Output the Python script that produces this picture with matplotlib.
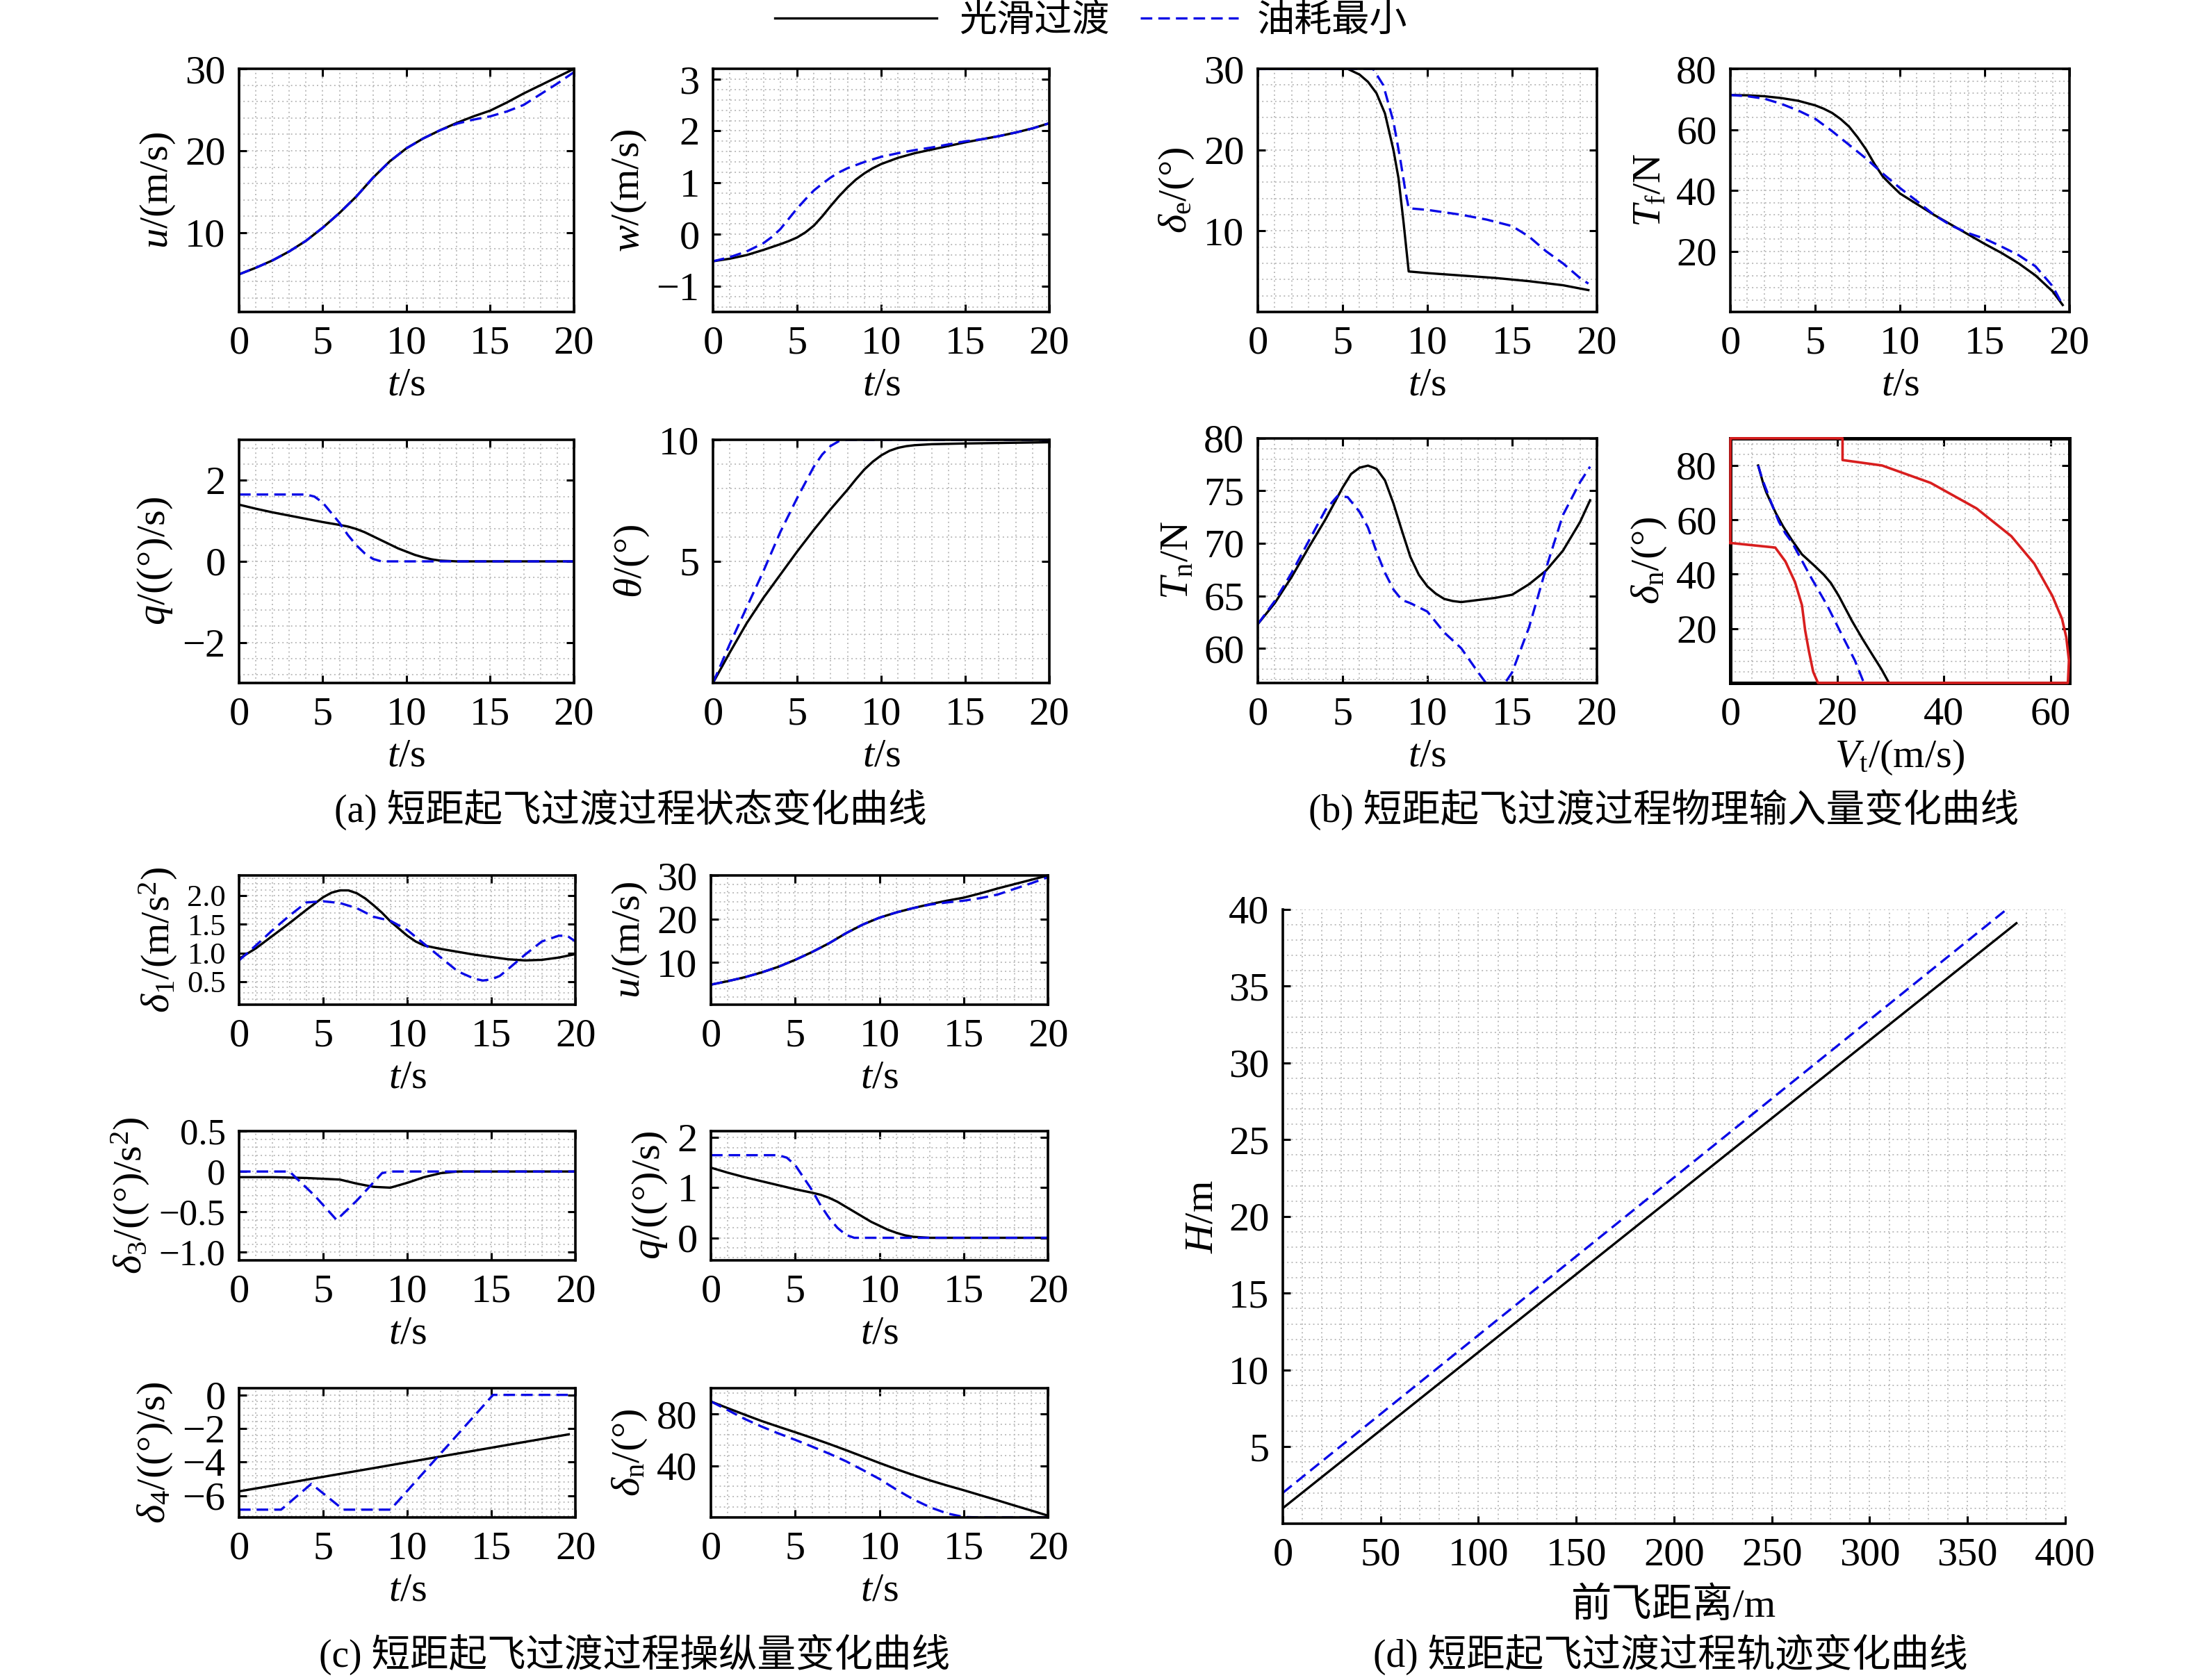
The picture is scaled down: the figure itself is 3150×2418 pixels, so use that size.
import matplotlib
matplotlib.use("Agg")
import matplotlib.pyplot as plt
from matplotlib.lines import Line2D
from matplotlib.ticker import AutoMinorLocator

plt.rcParams['font.family'] = ['Liberation Serif', 'Noto Sans CJK SC']
plt.rcParams['mathtext.fontset'] = 'custom'
plt.rcParams['mathtext.rm'] = 'Liberation Serif'
plt.rcParams['mathtext.it'] = 'Liberation Serif:italic'
plt.rcParams['mathtext.bf'] = 'Liberation Serif:bold'
plt.rcParams['axes.unicode_minus'] = True

# ---- data ----
# "s" = 光滑过渡 (smooth), "o" = 油耗最小 (min fuel)
t_u_s = [0, 1, 2, 3, 4, 5, 6, 7, 8, 9, 10, 11, 12, 13, 14, 15, 16, 17, 18, 19, 20]
u_s = [4.9, 5.7, 6.6, 7.7, 9.0, 10.6, 12.4, 14.4, 16.7, 18.7, 20.3, 21.5, 22.5, 23.4, 24.2, 24.9, 25.9, 27.0, 28.0, 29.0, 30.0]
t_u_o = [0, 1, 2, 3, 4, 5, 6, 7, 8, 9, 10, 11, 12, 13, 14, 15, 16, 17, 18, 19, 20]
u_o = [4.9, 5.7, 6.6, 7.7, 9.0, 10.6, 12.4, 14.4, 16.7, 18.7, 20.3, 21.5, 22.5, 23.3, 23.8, 24.2, 24.8, 25.6, 26.9, 28.2, 29.6]

t_w_s = [0, 1, 2, 3, 4, 4.5, 5, 5.5, 6, 6.5, 7, 7.5, 8, 8.5, 9, 9.5, 10, 11, 12, 13, 14, 15, 16, 17, 18, 19, 20]
w_s = [-0.52, -0.47, -0.40, -0.30, -0.19, -0.13, -0.06, 0.04, 0.17, 0.35, 0.55, 0.74, 0.91, 1.06, 1.18, 1.28, 1.36, 1.48, 1.57, 1.64, 1.71, 1.78, 1.84, 1.90, 1.97, 2.05, 2.15]
t_w_o = [0, 1, 2, 3, 3.5, 4, 4.5, 5, 5.5, 6, 6.5, 7, 7.5, 8, 9, 10, 11, 12, 13, 14, 15, 16, 17, 18, 19, 20]
w_o = [-0.52, -0.44, -0.33, -0.17, -0.05, 0.10, 0.30, 0.50, 0.68, 0.85, 0.98, 1.10, 1.20, 1.28, 1.40, 1.50, 1.57, 1.63, 1.68, 1.74, 1.80, 1.84, 1.90, 1.97, 2.05, 2.15]

t_q_s = [0, 1, 2, 3, 4, 5, 6, 6.5, 7, 7.5, 8, 8.5, 9, 9.5, 10, 10.5, 11, 11.5, 12, 13, 20]
q_s = [1.40, 1.30, 1.21, 1.13, 1.05, 0.97, 0.90, 0.86, 0.80, 0.72, 0.62, 0.52, 0.42, 0.32, 0.24, 0.16, 0.10, 0.05, 0.02, 0.0, 0.0]
t_q_o = [0, 4, 4.5, 5, 5.5, 6, 6.5, 7, 7.5, 8, 8.5, 20]
q_o = [1.65, 1.65, 1.60, 1.45, 1.20, 0.95, 0.65, 0.40, 0.20, 0.06, 0.0, 0.0]

t_th_s = [0, 1, 2, 3, 4, 5, 6, 7, 8, 8.5, 9, 9.5, 10, 10.5, 11, 11.5, 12, 13, 15, 20]
th_s = [0, 1.25, 2.45, 3.5, 4.45, 5.4, 6.3, 7.15, 7.95, 8.38, 8.78, 9.1, 9.36, 9.55, 9.67, 9.74, 9.78, 9.82, 9.85, 9.9]
t_th_o = [0, 1, 2, 3, 4, 5, 6, 6.5, 7, 7.5, 8, 20]
th_o = [0, 1.6, 3.1, 4.6, 6.2, 7.6, 8.9, 9.4, 9.75, 9.95, 10.0, 10.0]

t_de_s = [0, 5.3, 6, 6.5, 7, 7.5, 8, 8.3, 8.6, 8.9, 10, 12, 14, 16, 18, 19.5]
de_s = [30, 30, 29.3, 28.4, 27.0, 24.5, 20.0, 16.5, 11.0, 5.0, 4.8, 4.5, 4.2, 3.8, 3.3, 2.7]
t_de_o = [0, 6.8, 7.4, 8, 8.4, 8.7, 8.9, 10, 12, 13.5, 15, 16, 17, 18, 19, 19.5]
de_o = [30, 30, 28.0, 23.5, 18.9, 15.0, 12.8, 12.6, 12.0, 11.4, 10.6, 9.3, 7.5, 6.0, 4.2, 3.5]

t_tf_s = [0, 1, 2, 3, 4, 5, 5.5, 6, 6.5, 7, 7.5, 8, 8.5, 9, 9.5, 10, 11, 12, 13, 14, 15, 16, 17, 18, 19, 19.6]
tf_s = [71.4, 71.3, 71.0, 70.4, 69.5, 68.0, 66.9, 65.5, 63.5, 61.0, 57.5, 53.5, 48.7, 44.5, 41.7, 39.0, 35.5, 32.0, 28.8, 25.6, 22.4, 19.4, 16.0, 12.0, 6.8, 2.3]
t_tf_o = [0, 1, 2, 3, 4, 5, 6, 7, 8, 9, 10, 11, 12, 13, 14, 15, 16, 17, 18, 19, 19.6]
tf_o = [71.4, 71.0, 70.2, 68.5, 66.3, 63.6, 59.5, 55.0, 50.5, 45.5, 40.8, 36.5, 32.0, 28.5, 26.0, 24.1, 21.5, 18.7, 15.0, 8.5, 2.3]

t_tn_s = [0, 1, 2, 3, 4, 5, 5.5, 6, 6.5, 7, 7.5, 8, 8.5, 9, 9.5, 10, 10.5, 11, 11.5, 12, 13, 14, 15, 16, 17, 18, 19, 19.6]
tn_s = [62.3, 64.3, 66.8, 69.6, 72.3, 75.3, 76.6, 77.2, 77.4, 77.1, 76.0, 73.8, 71.2, 68.7, 67.0, 65.9, 65.2, 64.7, 64.5, 64.4, 64.6, 64.8, 65.1, 66.1, 67.4, 69.3, 72.0, 74.1]
t_tn_o = [0, 1, 2, 3, 4, 4.7, 5.3, 6, 6.5, 7, 7.5, 8, 8.5, 9, 10, 11, 12, 13, 13.5, 14.5, 15, 16, 17, 18, 19, 19.6]
tn_o = [62.3, 64.5, 67.2, 70.2, 73.2, 74.5, 74.4, 73.0, 71.5, 69.2, 67.2, 65.6, 64.6, 64.3, 63.5, 61.5, 60.0, 57.7, 56.6, 56.5, 57.7, 62.0, 67.6, 72.7, 75.8, 77.3]

# 过渡走廊 (red envelope)
env_v = [0, 0, 21.0, 21.0, 28.4, 37.5, 46.1, 52.6, 56.9, 60.3, 62.1, 62.9, 63.4, 63.2,
         16.4, 15.5, 14.7, 14.0, 13.4, 12.1, 10.3, 8.4, 0]
env_dn = [51.5, 90, 90, 82, 80, 73.6, 64.2, 54.0, 43.9, 32.0, 23.6, 16.8, 8.3, 0,
          0, 4.1, 11.7, 19.3, 28.6, 37.1, 44.7, 49.8, 51.5]
vt_s = [5.2, 5.7, 6.2, 6.7, 7.3, 8.5, 9.9, 11.6, 13.4, 15.8, 17.5, 18.8, 20.3, 22.8, 24.8, 26.7, 28.3, 29.7]
dnv_s = [80, 76.5, 73, 70.2, 67.6, 62.5, 57.5, 52.3, 47.3, 43.0, 39.8, 36.8, 32.0, 22.7, 16.0, 10.0, 5.0, 0]
vt_o = [5.2, 6.0, 6.9, 8.0, 9.1, 10.3, 11.6, 15.1, 18.1, 21.1, 23.3, 25.0]
dnv_o = [80, 74.8, 70.2, 64.5, 59.2, 55.0, 51.5, 38.8, 28.6, 16.8, 8.3, 0]

t_d1_s = [0, 1, 2, 3, 4, 5, 5.5, 6, 6.5, 7, 7.5, 8, 8.5, 9, 10, 10.5, 11, 12, 13, 14, 15, 16, 17, 18, 19, 20]
d1_s = [0.9, 1.08, 1.3, 1.52, 1.75, 1.97, 2.05, 2.09, 2.09, 2.04, 1.95, 1.83, 1.7, 1.55, 1.3, 1.2, 1.13, 1.07, 1.02, 0.97, 0.93, 0.89, 0.87, 0.88, 0.92, 0.98]
t_d1_o = [0, 1, 2, 3, 4, 5, 6, 7, 8, 9, 10, 11, 12, 13, 14, 14.5, 15, 15.5, 16, 17, 18, 19, 19.5, 20]
d1_o = [0.87, 1.13, 1.4, 1.65, 1.88, 1.9, 1.87, 1.78, 1.63, 1.56, 1.4, 1.16, 0.92, 0.68, 0.55, 0.52, 0.54, 0.6, 0.72, 0.97, 1.2, 1.3, 1.3, 1.2]

t_d3_s = [0, 2, 4, 5, 6, 7, 8, 9, 10, 11, 12, 13, 20]
d3_s = [-0.07, -0.07, -0.08, -0.09, -0.1, -0.15, -0.19, -0.2, -0.14, -0.07, -0.02, 0, 0]
t_d3_o = [0, 3, 4.5, 5.8, 7, 8.5, 9, 20]
d3_o = [0, 0, -0.3, -0.6, -0.36, -0.02, 0, 0]

t_d4_s = [0, 19.6]
d4_s = [-5.75, -2.35]
t_d4_o = [0, 2.5, 4.3, 6.2, 9, 15.1, 20]
d4_o = [-6.84, -6.84, -5.3, -6.84, -6.84, 0, 0]

t_dn_s = [0, 1, 2, 3, 4, 5, 6, 7, 8, 9, 10, 11, 12, 13, 14, 15, 16, 17, 18, 19, 20]
dn_s = [89.7, 84.5, 79.5, 74.6, 70.2, 65.9, 61.5, 56.9, 52.1, 47.1, 42.1, 37.3, 32.8, 28.6, 24.7, 21.0, 17.1, 13.2, 9.2, 5.3, 1.3]
t_dn_o = [0, 1, 2, 3, 4, 5, 6, 7, 8, 9, 10, 11, 12, 13, 14, 15, 16, 20]
dn_o = [89.7, 83, 76.2, 70.3, 65, 60, 54.8, 49.4, 43.5, 36.7, 29.7, 21.5, 14, 7.8, 3.1, 0.3, 0, 0]

x_h_s = [0, 375]
h_s = [1.0, 39.1]
x_h_o = [0, 370]
h_o = [2.0, 40.0]

t_ticks = [0, 5, 10, 15, 20]
lab_t = r'$t$/s'

FS = 21
BLUE = '#0a0ae6'
LW = 1.2
DASH = (5, 2.6)

fig = plt.figure(figsize=(15.75, 12.09), dpi=200)


def style(ax, xt, yt, xlim, ylim, xlab, ylab, ytl=None, box=True, xpad=3, ytfs=FS):
    ax.set_xlim(*xlim)
    ax.set_ylim(*ylim)
    ax.set_xticks(xt)
    ax.set_yticks(yt)
    if ytl is not None:
        ax.set_yticklabels(ytl)
    ax.xaxis.set_minor_locator(AutoMinorLocator(5))
    ax.yaxis.set_minor_locator(AutoMinorLocator(5))
    ax.grid(True, which='both', color='#bdbdbd', linestyle=(0, (1, 2.2)), linewidth=0.7)
    ax.set_axisbelow(True)
    ax.tick_params(which='major', direction='in', length=3.8, width=1.1,
                   top=box, right=box, labelsize=FS, pad=7)
    ax.tick_params(axis='y', which='major', labelsize=ytfs)
    ax.tick_params(which='minor', length=0)
    for sp in ax.spines.values():
        sp.set_linewidth(1.3)
    if not box:
        ax.spines['top'].set_visible(False)
        ax.spines['right'].set_visible(False)
    ax.set_xlabel(xlab, fontsize=FS, labelpad=xpad)
    ax.set_ylabel(ylab, fontsize=FS, labelpad=4)


def pair(ax, xs, ys, xo, yo):
    ax.plot(xs, ys, color='black', lw=LW)
    ax.plot(xo, yo, color=BLUE, lw=LW, dashes=DASH)


H1 = 0.1447
# (a)
ax = fig.add_axes([0.1092, 0.8143, 0.1530, H1])
pair(ax, t_u_s, u_s, t_u_o, u_o)
style(ax, t_ticks, [10, 20, 30], (0, 20), (0.3, 30), lab_t, r'$u$/(m/s)')

ax = fig.add_axes([0.3257, 0.8143, 0.1537, H1])
pair(ax, t_w_s, w_s, t_w_o, w_o)
style(ax, t_ticks, [-1, 0, 1, 2, 3], (0, 20), (-1.5, 3.2), lab_t, r'$w$/(m/s)')

ax = fig.add_axes([0.1092, 0.5935, 0.1530, H1])
pair(ax, t_q_s, q_s, t_q_o, q_o)
style(ax, t_ticks, [-2, 0, 2], (0, 20), (-3, 3), lab_t, r'$q$/((°)/s)')

ax = fig.add_axes([0.3257, 0.5935, 0.1537, H1])
pair(ax, t_th_s, th_s, t_th_o, th_o)
style(ax, t_ticks, [5, 10], (0, 20), (0, 10), lab_t, r'$\theta$/(°)')

# (b)
ax = fig.add_axes([0.5746, 0.8143, 0.1549, H1])
pair(ax, t_de_s, de_s, t_de_o, de_o)
style(ax, t_ticks, [10, 20, 30], (0, 20), (0, 30), lab_t, r'$\delta_{\rm e}$/(°)')

ax = fig.add_axes([0.7905, 0.8143, 0.1549, H1])
pair(ax, t_tf_s, tf_s, t_tf_o, tf_o)
style(ax, t_ticks, [20, 40, 60, 80], (0, 20), (0, 80), lab_t, r'$T_{\rm f}$/N')

ax = fig.add_axes([0.5746, 0.5935, 0.1549, 0.1456])
pair(ax, t_tn_s, tn_s, t_tn_o, tn_o)
style(ax, t_ticks, [60, 65, 70, 75, 80], (0, 20), (56.7, 80), lab_t, r'$T_{\rm n}$/N')

ax = fig.add_axes([0.7905, 0.5935, 0.1549, 0.1456])
pair(ax, vt_s, dnv_s, vt_o, dnv_o)
ax.plot(env_v, env_dn, color='#d81e1e', lw=1.3, clip_on=False, zorder=5)
style(ax, [0, 20, 40, 60], [20, 40, 60, 80], (0, 63.5), (0, 90),
      r'$V_{\rm t}$/(m/s)', r'$\delta_{\rm n}$/(°)')
for sp in ax.spines.values():
    sp.set_linewidth(1.8)

# (c)
H2 = 0.0769
ax = fig.add_axes([0.1092, 0.4020, 0.1537, H2])
pair(ax, t_d1_s, d1_s, t_d1_o, d1_o)
style(ax, t_ticks, [0.5, 1.0, 1.5, 2.0], (0, 20), (0.1, 2.35), lab_t,
      r'$\delta_1$/(m/s$^2$)', ytl=['0.5', '1.0', '1.5', '2.0'], ytfs=16)

ax = fig.add_axes([0.3248, 0.4020, 0.1540, H2])
pair(ax, t_u_s, u_s, t_u_o, u_o)
style(ax, t_ticks, [10, 20, 30], (0, 20), (0.3, 30), lab_t, r'$u$/(m/s)')

ax = fig.add_axes([0.1092, 0.2498, 0.1537, H2])
pair(ax, t_d3_s, d3_s, t_d3_o, d3_o)
style(ax, t_ticks, [-1.0, -0.5, 0, 0.5], (0, 20), (-1.1, 0.5), lab_t,
      r'$\delta_3$/((°)/s$^2$)', ytl=['\u22121.0', '\u22120.5', '0', '0.5'], ytfs=19)

ax = fig.add_axes([0.3248, 0.2498, 0.1540, H2])
pair(ax, t_q_s, q_s, t_q_o, q_o)
style(ax, t_ticks, [0, 1, 2], (0, 20), (-0.45, 2.13), lab_t, r'$q$/((°)/s)')

ax = fig.add_axes([0.1092, 0.0968, 0.1537, H2])
pair(ax, t_d4_s, d4_s, t_d4_o, d4_o)
style(ax, t_ticks, [-6, -4, -2, 0], (0, 20), (-7.3, 0.4), lab_t, r'$\delta_4$/((°)/s)')

ax = fig.add_axes([0.3248, 0.0968, 0.1540, H2])
pair(ax, t_dn_s, dn_s, t_dn_o, dn_o)
style(ax, t_ticks, [40, 80], (0, 20), (0, 100), lab_t, r'$\delta_{\rm n}$/(°)')

# (d)
ax = fig.add_axes([0.5860, 0.0931, 0.3575, 0.3656])
pair(ax, x_h_s, h_s, x_h_o, h_o)
style(ax, list(range(0, 401, 50)), list(range(5, 41, 5)), (0, 400), (0, 40),
      '前飞距离/m', r'$H$/m', box=False, xpad=7)

# captions
CFS = 20
fig.text(0.288, 0.518, '(a) 短距起飞过渡过程状态变化曲线', ha='center', va='center', fontsize=CFS)
fig.text(0.760, 0.518, '(b) 短距起飞过渡过程物理输入量变化曲线', ha='center', va='center', fontsize=CFS)
fig.text(0.290, 0.015, '(c) 短距起飞过渡过程操纵量变化曲线', ha='center', va='center', fontsize=CFS)
fig.text(0.763, 0.015, '(d) 短距起飞过渡过程轨迹变化曲线', ha='center', va='center', fontsize=CFS)

# legend
h1 = Line2D([], [], color='black', lw=LW)
h2 = Line2D([], [], color=BLUE, lw=LW, dashes=DASH)
fig.legend([h1], ['光滑过渡'], loc='center left', bbox_to_anchor=(0.354, 0.987),
           frameon=False, fontsize=19.5, handlelength=4.3, borderpad=0,
           borderaxespad=0, handletextpad=0.6)
fig.legend([h2], ['油耗最小'], loc='center left', bbox_to_anchor=(0.521, 0.987),
           frameon=False, fontsize=19.5, handlelength=2.6, borderpad=0,
           borderaxespad=0, handletextpad=0.5)

fig.savefig('out.png', dpi=200)
